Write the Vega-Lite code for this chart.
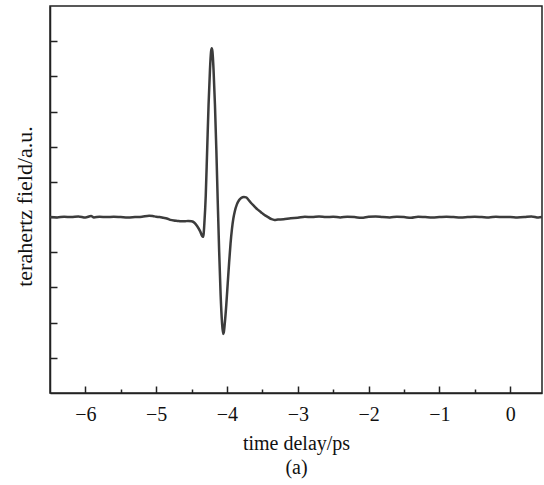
{
  "$schema": "https://vega.github.io/schema/vega-lite/v6.json",
  "width": 492,
  "height": 387,
  "autosize": {"type": "none"},
  "padding": {"left": 50, "top": 6, "right": 2, "bottom": 92},
  "background": "white",
  "config": {
    "view": {"stroke": "#222", "strokeWidth": 1.5},
    "axis": {
      "labelFont": "Liberation Serif",
      "titleFont": "Liberation Serif",
      "labelColor": "#111",
      "titleColor": "#111",
      "titleFontWeight": "normal",
      "domainColor": "#222",
      "domainWidth": 1.5,
      "tickColor": "#222",
      "tickWidth": 1.5,
      "grid": false
    }
  },
  "data": {
    "values": [
      {"t": -6.5, "v": 0.0}, {"t": -6.4, "v": -0.005}, {"t": -6.3, "v": 0.005}, {"t": -6.2, "v": 0.0},
      {"t": -6.1, "v": 0.01}, {"t": -6.0, "v": -0.005}, {"t": -5.92, "v": 0.015}, {"t": -5.88, "v": -0.005},
      {"t": -5.8, "v": 0.005}, {"t": -5.7, "v": 0.0}, {"t": -5.6, "v": 0.005}, {"t": -5.5, "v": 0.0},
      {"t": -5.4, "v": -0.005}, {"t": -5.3, "v": 0.0}, {"t": -5.2, "v": 0.005}, {"t": -5.1, "v": 0.02},
      {"t": -5.05, "v": 0.015}, {"t": -5.0, "v": 0.005}, {"t": -4.95, "v": 0.0}, {"t": -4.9, "v": -0.01},
      {"t": -4.85, "v": -0.02}, {"t": -4.8, "v": -0.04}, {"t": -4.75, "v": -0.05}, {"t": -4.7, "v": -0.055},
      {"t": -4.65, "v": -0.06}, {"t": -4.6, "v": -0.06}, {"t": -4.55, "v": -0.055}, {"t": -4.5, "v": -0.06},
      {"t": -4.46, "v": -0.08}, {"t": -4.42, "v": -0.13}, {"t": -4.38, "v": -0.2}, {"t": -4.35, "v": -0.27},
      {"t": -4.34, "v": -0.28}, {"t": -4.33, "v": -0.24}, {"t": -4.32, "v": -0.1}, {"t": -4.3, "v": 0.3},
      {"t": -4.28, "v": 0.95}, {"t": -4.26, "v": 1.6}, {"t": -4.24, "v": 2.1}, {"t": -4.225, "v": 2.35},
      {"t": -4.215, "v": 2.4}, {"t": -4.205, "v": 2.35}, {"t": -4.19, "v": 2.1}, {"t": -4.17, "v": 1.6},
      {"t": -4.15, "v": 0.95}, {"t": -4.13, "v": 0.2}, {"t": -4.11, "v": -0.5}, {"t": -4.09, "v": -1.1},
      {"t": -4.07, "v": -1.5}, {"t": -4.055, "v": -1.66}, {"t": -4.045, "v": -1.64}, {"t": -4.03, "v": -1.5},
      {"t": -4.01, "v": -1.25}, {"t": -3.99, "v": -0.95}, {"t": -3.97, "v": -0.65}, {"t": -3.95, "v": -0.38},
      {"t": -3.93, "v": -0.17}, {"t": -3.91, "v": -0.02}, {"t": -3.89, "v": 0.08}, {"t": -3.86, "v": 0.18},
      {"t": -3.83, "v": 0.24}, {"t": -3.8, "v": 0.27}, {"t": -3.76, "v": 0.285}, {"t": -3.73, "v": 0.28},
      {"t": -3.7, "v": 0.25}, {"t": -3.66, "v": 0.2}, {"t": -3.62, "v": 0.16}, {"t": -3.57, "v": 0.11},
      {"t": -3.52, "v": 0.07}, {"t": -3.47, "v": 0.03}, {"t": -3.42, "v": 0.0}, {"t": -3.37, "v": -0.03},
      {"t": -3.33, "v": -0.04}, {"t": -3.28, "v": -0.035}, {"t": -3.2, "v": -0.03}, {"t": -3.1, "v": -0.015},
      {"t": -3.0, "v": -0.01}, {"t": -2.9, "v": 0.005}, {"t": -2.8, "v": 0.0}, {"t": -2.7, "v": 0.01},
      {"t": -2.6, "v": 0.0}, {"t": -2.5, "v": 0.005}, {"t": -2.4, "v": -0.005}, {"t": -2.3, "v": 0.005},
      {"t": -2.2, "v": 0.0}, {"t": -2.1, "v": -0.01}, {"t": -2.0, "v": 0.005}, {"t": -1.9, "v": 0.01},
      {"t": -1.8, "v": 0.0}, {"t": -1.7, "v": -0.005}, {"t": -1.6, "v": 0.005}, {"t": -1.5, "v": 0.0},
      {"t": -1.4, "v": -0.01}, {"t": -1.3, "v": 0.005}, {"t": -1.2, "v": 0.0}, {"t": -1.1, "v": -0.005},
      {"t": -1.0, "v": 0.0}, {"t": -0.9, "v": 0.005}, {"t": -0.8, "v": 0.0}, {"t": -0.7, "v": -0.005},
      {"t": -0.6, "v": 0.0}, {"t": -0.5, "v": 0.005}, {"t": -0.4, "v": 0.0}, {"t": -0.3, "v": -0.005},
      {"t": -0.2, "v": 0.005}, {"t": -0.1, "v": 0.0}, {"t": 0.0, "v": 0.0}, {"t": 0.1, "v": -0.005},
      {"t": 0.2, "v": 0.0}, {"t": 0.3, "v": 0.01}, {"t": 0.4, "v": -0.005}, {"t": 0.45, "v": 0.0}
    ]
  },
  "resolve": {"axis": {"x": "independent"}},
  "layer": [
    {
      "mark": {"type": "line", "color": "#3c3c3c", "strokeWidth": 2.5, "clip": true, "interpolate": "monotone"},
      "encoding": {
        "x": {
          "field": "t", "type": "quantitative",
          "scale": {"domain": [-6.5, 0.45], "nice": false, "zero": false},
          "axis": {
            "orient": "bottom",
            "values": [-6, -5, -4, -3, -2, -1, 0],
            "format": "d",
            "tickSize": -7,
            "labelPadding": 18,
            "labelFontSize": 20,
            "title": ["time delay/ps", "(a)"],
            "titleFontSize": 20,
            "titleLineHeight": 24,
            "titlePadding": 9
          }
        },
        "y": {
          "field": "v", "type": "quantitative",
          "scale": {"domain": [-2.5, 3.0], "nice": false, "zero": false},
          "axis": {
            "values": [-2, -1.5, -1, -0.5, 0, 0.5, 1, 1.5, 2, 2.5],
            "labels": false,
            "tickSize": -7,
            "title": "terahertz field/a.u.",
            "titleFontSize": 22,
            "titleAngle": -90,
            "titleBaseline": "alphabetic",
            "titleAlign": "center",
            "titleX": -19,
            "titleY": 200
          }
        }
      }
    },
    {
      "mark": {"type": "line", "opacity": 0, "clip": true},
      "encoding": {
        "x": {
          "field": "t", "type": "quantitative",
          "axis": {
            "orient": "bottom",
            "values": [-5.5, -4.5, -3.5, -2.5, -1.5, -0.5],
            "tickSize": -4,
            "labels": false,
            "domain": false,
            "title": null
          }
        },
        "y": {"field": "v", "type": "quantitative"}
      }
    }
  ]
}
